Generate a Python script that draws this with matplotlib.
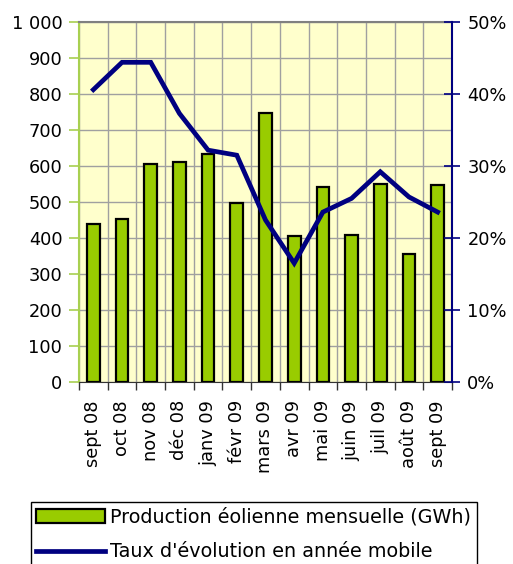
''' Production eolienne mensuelle et taux d'evolution '''

import numpy as np
import matplotlib
matplotlib.use('Agg')
import matplotlib.pyplot as plt
from matplotlib.ticker import FixedLocator, FuncFormatter

plt.rcParams['font.family'] = ['DejaVu Sans']
plt.rcParams['font.size'] = 12.8

# DATA
#*************
months = ['sept 08', 'oct 08', 'nov 08', 'déc 08', 'janv 09', 'févr 09', 'mars 09',
          'avr 09', 'mai 09', 'juin 09', 'juil 09', 'août 09', 'sept 09']
production_gwh = [438, 452, 605, 610, 632, 497, 746, 406, 541, 408, 550, 356, 547]
taux_evolution = [0.406, 0.444, 0.444, 0.373, 0.322, 0.315, 0.225, 0.165,
                  0.236, 0.255, 0.292, 0.257, 0.236]
left_ticks = [0, 100, 200, 300, 400, 500, 600, 700, 800, 900, 1000]
left_labels = ['0', '100', '200', '300', '400', '500', '600', '700', '800', '900', '1 000']
right_ticks = [0, 0.1, 0.2, 0.3, 0.4, 0.5]

label_bars = 'Production éolienne mensuelle (GWh)'
label_line = "Taux d'évolution en année mobile"

# PLOT
#*************
fig = plt.figure(figsize=(5.13, 5.64), dpi=100)
ax = fig.add_axes([79/513, 1 - 382/564, 373/513, 360/564])
ax.set_facecolor('#FFFFCC')

x = np.arange(len(months))
bars = ax.bar(x, production_gwh, width=0.44, color='#99CC00', edgecolor='black',
              linewidth=1.6, zorder=3, label=label_bars)

ax.set_xlim(-0.5, len(months) - 0.5)
ax.set_ylim(0, 1000)
ax.set_yticks(left_ticks)
ax.set_yticklabels(left_labels)

# category boundaries as major ticks (no label), names on minor ticks
ax.xaxis.set_major_locator(FixedLocator(np.arange(len(months) + 1) - 0.5))
ax.xaxis.set_major_formatter(FuncFormatter(lambda v, p: ''))
ax.set_xticks(x, minor=True)
ax.set_xticklabels(months, minor=True, rotation=90)
ax.tick_params(axis='x', which='major', length=6, width=1, color='#333333')
ax.tick_params(axis='x', which='minor', length=0, pad=13)
ax.tick_params(axis='y', length=7, width=1.2, color='#A8D050', pad=5)

ax.grid(True, which='major', color='#A0A0A0', linewidth=1, zorder=0)
ax.set_axisbelow(True)

ax.spines['left'].set_color('#A8D050')
ax.spines['left'].set_linewidth(1.5)
ax.spines['top'].set_color('#808080')
ax.spines['top'].set_linewidth(1.5)
ax.spines['bottom'].set_color('#333333')
ax.spines['right'].set_visible(False)

ax2 = ax.twinx()
line, = ax2.plot(x, taux_evolution, color='#000080', linewidth=3.4,
                 solid_joinstyle='miter', zorder=4, label=label_line)
ax2.set_ylim(0, 0.5)
ax2.set_yticks(right_ticks)
ax2.yaxis.set_major_formatter(FuncFormatter(lambda v, p: '%d%%' % round(v * 100)))
ax2.tick_params(axis='y', direction='inout', length=12, width=1.2, color='#000080', pad=5)
ax2.spines['right'].set_color('#000080')
ax2.spines['right'].set_linewidth(1.5)
for s in ['left', 'top', 'bottom']:
    ax2.spines[s].set_visible(False)

leg = fig.legend([bars, line], [label_bars, label_line],
                 loc='upper right', bbox_to_anchor=(477/513, 1 - 502/564),
                 bbox_transform=fig.transFigure, borderaxespad=0,
                 fancybox=False, framealpha=1, edgecolor='black',
                 handlelength=3.6, handletextpad=0.25, labelspacing=0.82,
                 borderpad=0.3, fontsize=13.8)
leg.get_frame().set_linewidth(1)

plt.savefig('out.png', dpi=100)
